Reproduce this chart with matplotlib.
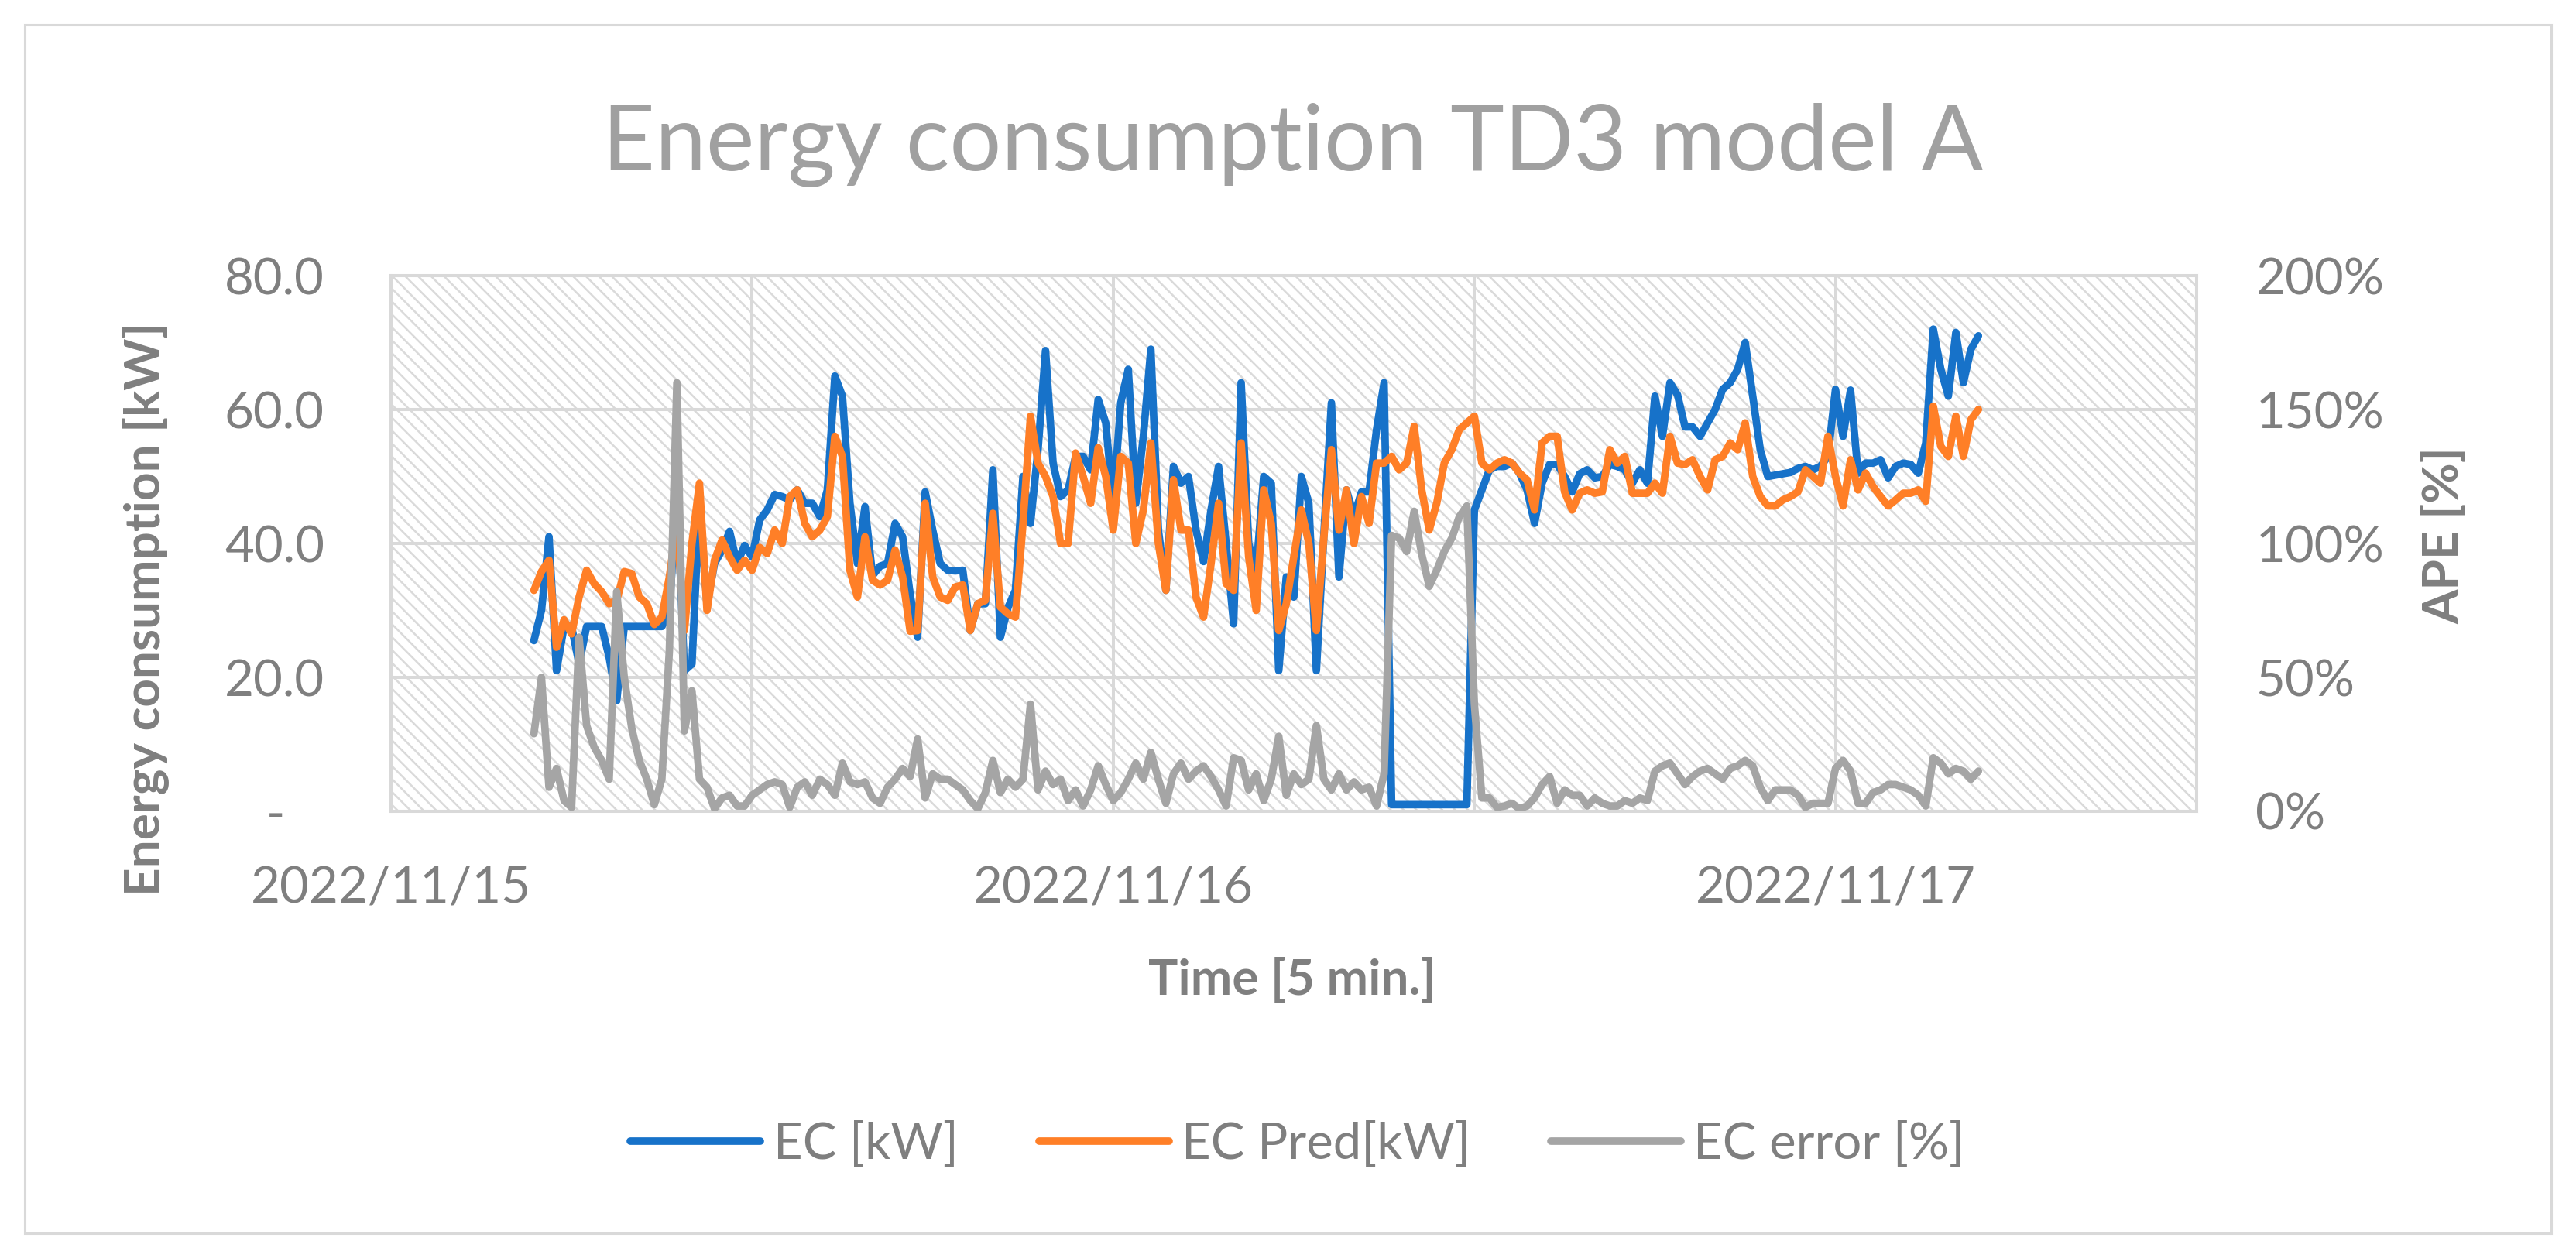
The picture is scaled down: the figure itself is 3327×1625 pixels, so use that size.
import matplotlib
matplotlib.use('Agg')
import matplotlib.pyplot as plt
import matplotlib.dates as mdates
from matplotlib.patches import Rectangle
import pandas as pd

# 5-min series, kept at 15 min steps from 2022/11/15 04:45
start = '2022-11-15 04:45'

ec_kw = [
    25.5, 30, 41, 21, 27.6, 27.6, 22, 27.6, 27.6, 27.6, 23, 16.5, 27.6, 27.6, 27.6, 27.6,
    27.6, 27.6, 30, 47.7, 21, 22, 46, 31, 37, 39, 41.8, 37, 39.7, 38, 43.5, 45,
    47.3, 47, 46.5, 48, 46, 46, 44, 48, 65, 62, 46, 37, 45.5, 35.2, 36.6, 37,
    43, 41, 32.4, 26, 47.7, 42, 37, 36, 35.9, 36, 27, 31, 31, 51, 26, 30.4,
    33, 50, 43, 54, 68.8, 52, 47, 48, 53, 53, 51, 61.5, 58, 46, 61, 66,
    46, 56, 69, 42, 33, 51.5, 49, 50, 42, 37.3, 45, 51.5, 40, 28, 64, 40,
    36, 50, 49, 21, 35, 32, 50, 46, 21, 41.4, 61, 35, 48, 44, 47.7, 47.7,
    57, 64, 1, 1, 1, 1, 1, 1, 1, 1, 1, 1, 1, 45, 48, 51,
    51.5, 51.5, 52, 50.5, 48, 43, 49, 51.8, 51.8, 50, 47.7, 50.4, 51, 49.8, 50, 51.8,
    51.5, 51, 49, 51, 49, 62, 56, 64, 62.2, 57.4, 57.4, 56, 58, 60, 63, 64,
    66, 70, 62, 54, 50, 50.2, 50.4, 50.6, 51.2, 51.5, 51, 51.5, 53, 63, 56, 62.9,
    50.5, 52, 52, 52.5, 49.8, 51.5, 52, 51.8, 50.5, 55, 72, 66, 62, 71.5, 64, 69,
    71,
]

ec_pred_kw = [
    33, 35.8, 37.5, 24.5, 28.6, 26.5, 32, 36, 34, 32.8, 31, 31.5, 35.8, 35.5, 32, 31,
    27.9, 29, 35, 43, 27, 40, 49, 30, 37.5, 40.5, 38, 36, 37.5, 36, 39.4, 38.5,
    42, 40, 47, 48, 43, 41, 42, 44, 56, 53, 36, 32, 41, 34.5, 33.8, 34.5,
    39, 35, 26.9, 27, 46, 35, 32, 31.5, 33.5, 33.8, 27, 31, 31.5, 44.5, 30.5, 29.5,
    29, 43, 59, 52, 50, 47, 40, 40, 53.5, 50, 46, 54.3, 50, 42, 53, 52,
    40, 45, 55, 40, 33, 49.5, 42, 42, 32, 29, 37, 46, 34, 33, 55, 38,
    30, 48, 43, 27, 31, 38, 45, 40, 27, 41, 54, 42, 48, 40, 47, 43,
    52, 52, 53, 51, 52, 57.5, 48, 42, 46, 52, 54, 57, 58, 59, 52, 51,
    52, 52.5, 52, 50.5, 49.5, 45, 55, 56, 56, 47.7, 45, 47.5, 48, 47.5, 47.7, 54,
    52, 53, 47.5, 47.5, 47.5, 49, 47.5, 56, 52, 51.8, 52.5, 50, 48, 52.5, 53, 55,
    54, 58, 50, 47, 45.6, 45.6, 46.5, 47, 47.7, 51, 50, 49, 56, 50, 45.6, 52.5,
    48, 50.5, 48.5, 47, 45.6, 46.5, 47.5, 47.5, 48, 46.3, 60.5, 54.5, 53, 59, 53, 58.5,
    60,
]

ec_error_pct = [
    29, 50, 9, 16, 4, 1.5, 65, 32, 24, 19, 12, 82, 50, 31, 19, 12,
    2.5, 12, 60, 160, 30, 45, 12, 9, 1, 5, 6, 2, 2, 6, 8, 10,
    11, 10, 1.5, 9, 11, 6, 12, 10, 6, 18, 11, 10, 11, 5, 3, 9,
    12, 16, 13, 27, 5, 14, 12, 12, 10, 8, 4, 1, 7, 19, 7, 12,
    9, 12, 40, 8, 15, 10, 12, 4, 8, 2, 8, 17, 10, 4, 7, 12,
    18, 12, 22, 12, 3, 14, 18, 12, 15, 17, 13, 8, 2, 20, 19, 8,
    14, 4, 12, 28, 6, 14, 10, 12, 32, 12, 8, 14, 8, 11, 8, 9,
    2, 14, 103, 102, 97, 112, 96, 84, 90, 97, 102, 110, 114, 40, 5, 5,
    1.5, 2, 3, 1, 2, 5, 10, 13, 3, 8, 6, 6, 2, 5, 3, 2,
    2, 4, 3, 5, 4, 15, 17, 18, 14, 10, 13, 15, 16, 14, 12, 16,
    17, 19, 17, 9, 4, 8, 8, 8, 6, 1.5, 3, 3, 3, 16, 19, 15,
    3, 3, 7, 8, 10, 10, 9, 8, 6, 2, 20, 18, 14, 16, 15, 12,
    15,
]

kw_ticks = [0, 20, 40, 60, 80]
kw_labels = ['-   ', '20.0', '40.0', '60.0', '80.0']
pct_ticks = [0, 50, 100, 150, 200]
pct_labels = ['0%', '50%', '100%', '150%', '200%']
day_labels = ['2022-11-15', '2022-11-16', '2022-11-17']

times = pd.date_range(start, periods=len(ec_kw), freq='15min')

plt.rcParams['font.family'] = ['Lato', 'DejaVu Sans']
plt.rcParams['hatch.color'] = '#DADADA'
plt.rcParams['hatch.linewidth'] = 1.8

W, H = 3327, 1625
txt = '#7F7F7F'
grid_c = '#D9D9D9'
blue, orange, grey = '#1772C9', '#FF7F27', '#A5A5A5'

fig = plt.figure(figsize=(W / 100, H / 100), dpi=100)
fig.add_artist(Rectangle((32 / W, 32 / H), (3295 - 32) / W, (1593 - 32) / H,
                         transform=fig.transFigure, fill=False,
                         edgecolor=grid_c, lw=2.2))

ax = fig.add_axes([505 / W, 1 - 1048 / H, (2837 - 505) / W, (1048 - 356) / H])
ax.add_patch(Rectangle((0, 0), 1, 1, transform=ax.transAxes, facecolor='white',
                       edgecolor='#DADADA', hatch='\\\\', lw=0, zorder=0))

line_kw = dict(lw=7, solid_joinstyle='round', solid_capstyle='round')
l1, = ax.plot(times, ec_kw, color=blue, label='EC [kW]', zorder=3, **line_kw)
l2, = ax.plot(times, ec_pred_kw, color=orange, label='EC Pred[kW]', zorder=4, **line_kw)

ax.set_xlim(pd.Timestamp('2022-11-15'), pd.Timestamp('2022-11-17 12:00'))
ax.set_ylim(0, 80)
ax.set_yticks(kw_ticks)
ax.set_yticklabels(kw_labels)
ax.set_xticks([pd.Timestamp(d) for d in day_labels])
ax.xaxis.set_major_formatter(mdates.DateFormatter('%Y/%m/%d'))
ax.xaxis.set_minor_locator(mdates.HourLocator(byhour=[12]))
ax.set_axisbelow(True)
ax.grid(True, which='both', color=grid_c, lw=2.9)
ax.tick_params(which='both', length=0, labelsize=47, colors=txt)
ax.tick_params(axis='x', pad=50)
ax.tick_params(axis='y', pad=62)
for s in ax.spines.values():
    s.set_color(grid_c)
    s.set_linewidth(2.9)

ax2 = ax.twinx()
l3, = ax2.plot(times, ec_error_pct, color=grey, label='EC error [%]', **line_kw)
ax2.set_ylim(0, 200)
ax2.set_yticks(pct_ticks)
ax2.set_yticklabels(pct_labels)
ax2.tick_params(length=0, labelsize=47, colors=txt, pad=55)
for s in ax2.spines.values():
    s.set_visible(False)

fig.text(1670 / W, 1 - 220 / H, 'Energy consumption TD3 model A', ha='center',
         va='baseline', fontsize=85, color='#A0A0A0')
fig.text(1669 / W, 1 - 1285 / H, 'Time [5 min.]', ha='center', va='baseline',
         fontsize=46, color=txt, fontweight='bold')
fig.text(188 / W, 1 - 787 / H, 'Energy consumption [kW]', rotation=90,
         ha='center', va='center', fontsize=46, color=txt, fontweight='bold')
fig.text(3156 / W, 1 - 692 / H, 'APE [%]', rotation=90, ha='center',
         va='center', fontsize=46, color=txt, fontweight='bold')

fig.legend([l1, l2, l3], [l1.get_label(), l2.get_label(), l3.get_label()],
           loc='center', bbox_to_anchor=(1676 / W, 1 - 1478 / H), ncol=3,
           frameon=False, fontsize=47, labelcolor=txt, handlelength=2.57,
           handletextpad=0.25, columnspacing=1.6)

fig.savefig('out.png', dpi=100, facecolor='white')
